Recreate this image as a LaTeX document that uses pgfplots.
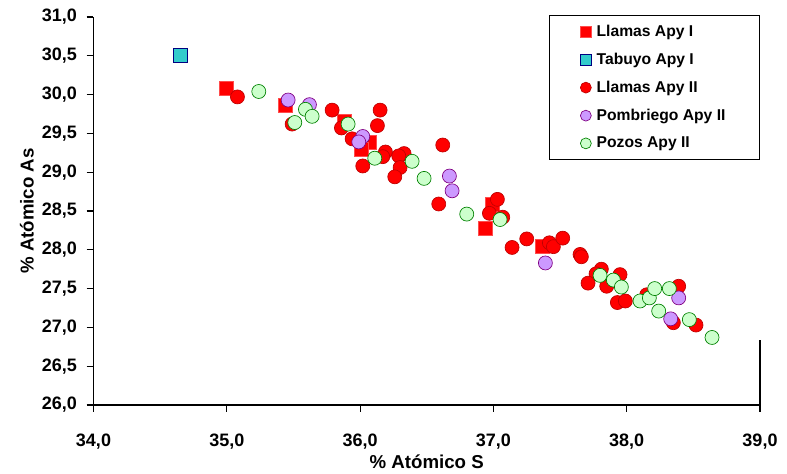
\documentclass[border=0pt]{standalone}
\usepackage{pgfplots}
\pgfplotsset{compat=1.18}
\usepackage{fontspec}
\setmainfont{Liberation Sans}
\definecolor{llred}{RGB}{255,0,0}
\definecolor{llredE}{RGB}{190,0,0}
\definecolor{tabfill}{RGB}{51,204,204}
\definecolor{tabedge}{RGB}{0,0,128}
\definecolor{pomfill}{RGB}{204,153,255}
\definecolor{pomedge}{RGB}{128,0,128}
\definecolor{pozfill}{RGB}{204,255,204}
\definecolor{pozedge}{RGB}{0,128,0}

\begin{document}
\begin{tikzpicture}
\begin{axis}[
    scale only axis,
    width=499.9pt, height=291pt,
    xmin=34, xmax=39, ymin=26, ymax=31,
    xtick={34,35,...,39},
    ytick={26,26.5,...,31},
    axis x line*=bottom, axis y line*=left,
    axis line style={-, line width=0.8pt},
    tick style={line width=0.8pt, black},
    tick align=outside,
    major tick length=5.25pt,
    /pgf/number format/.cd, fixed, fixed zerofill, precision=1, use comma, assume math mode=true,
    /pgfplots/.cd,
    ticklabel style={font=\fontsize{13.5}{14}\selectfont\bfseries},
    xticklabel style={yshift=-12.75pt},
    yticklabel style={xshift=-3.75pt},
    xlabel={\% Atómico S},
    ylabel={\% Atómico As},
    label style={font=\fontsize{14}{15}\selectfont\bfseries},
    xlabel style={at={(axis description cs:0.5,0)}, anchor=center, yshift=-42.75pt},
    ylabel style={at={(axis description cs:0,0.5)}, anchor=center, yshift=49.9pt},
    clip=false,
    legend style={
        at={(rel axis cs:1,1.005)}, anchor=north east,
        draw=black, line width=0.8pt,
        inner xsep=23.5pt, inner ysep=5pt,
        row sep=7pt, column sep=2pt,
        nodes={inner sep=2pt},
        font=\fontsize{11.75}{12.5}\selectfont\bfseries,
    },
    legend cell align=left,
    legend image code/.code={\draw[#1, line width=0.5pt, mark size=4.1pt] plot coordinates {(0cm,0cm)};},
]
\addplot[only marks, mark=square*, mark size=5.25pt, draw=llred!70!white, fill=llred, line width=0.5pt]
  coordinates {
  (35.00,30.08) (35.44,29.86) (35.88,29.66) (36.07,29.39) (36.01,29.30)
  (36.99,28.58) (36.94,28.27) (37.37,28.04)
};
\addlegendentry{Llamas Apy I}
\addplot[only marks, mark=square*, mark size=5.25pt, draw=tabedge, fill=tabfill, line width=0.5pt]
  coordinates {(34.65,30.51)};
\addlegendentry{Tabuyo Apy I}
\addplot[only marks, mark=*, mark size=5.25pt, draw=llredE, fill=llred, line width=0.5pt]
  coordinates {
  (35.08,29.97) (35.49,29.62) (35.79,29.80) (36.15,29.80) (35.86,29.57)
  (36.13,29.60) (35.94,29.43) (36.02,29.08) (36.19,29.26) (36.17,29.20)
  (36.33,29.24) (36.29,29.21) (36.30,29.06) (36.26,28.94) (36.62,29.35)
  (36.59,28.59) (37.03,28.65) (36.97,28.47) (37.07,28.42) (37.14,28.03)
  (37.25,28.14) (37.42,28.09) (37.45,28.04) (37.52,28.15) (37.65,27.94)
  (37.66,27.91) (37.81,27.75) (37.77,27.69) (37.71,27.57) (37.95,27.68)
  (37.85,27.53) (37.93,27.32) (37.99,27.34) (38.15,27.42) (38.39,27.53)
  (38.35,27.06) (38.52,27.03)
};
\addlegendentry{Llamas Apy II}
\addplot[only marks, mark=*, mark size=5.25pt, draw=pomedge, fill=pomfill, line width=0.5pt]
  coordinates {
  (35.46,29.93) (35.62,29.87) (36.02,29.46) (35.99,29.39) (36.67,28.95)
  (36.69,28.76) (37.39,27.83) (38.39,27.38) (38.33,27.11)
};
\addlegendentry{Pombriego Apy II}
\addplot[only marks, mark=*, mark size=5.25pt, draw=pozedge, fill=pozfill, line width=0.5pt]
  coordinates {
  (35.24,30.04) (35.59,29.81) (35.64,29.72) (35.51,29.64) (35.91,29.62)
  (36.11,29.18) (36.39,29.14) (36.48,28.92) (36.80,28.46) (37.05,28.39)
  (37.80,27.67) (37.90,27.61) (37.96,27.52) (38.10,27.34) (38.17,27.38)
  (38.21,27.50) (38.24,27.21) (38.32,27.50) (38.47,27.10) (38.64,26.87)
};
\addlegendentry{Pozos Apy II}
% stray piece of the plot-area frame on the right
\draw[line width=0.8pt] (axis cs:39,26) -- (axis cs:39,26.84);
% page size matching the reference
\path (rel axis cs:-0.14029,-0.17268) rectangle (rel axis cs:1.04051,1.04381);
\end{axis}
\end{tikzpicture}
\end{document}
